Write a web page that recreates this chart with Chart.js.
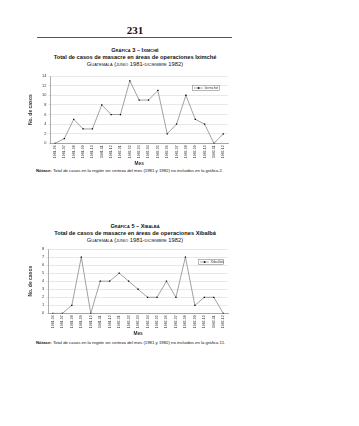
<!DOCTYPE html>
<html>
<head>
<meta charset="utf-8">
<script src="https://cdn.jsdelivr.net/npm/chart.js@4.4.1/dist/chart.umd.min.js"></script>
<style>
    body { margin: 0; background: #fff; font-family: "Liberation Sans", Arial, sans-serif; color: #111; }
    .page { position: relative; width: 359px; height: 426px; }
    .abs { position: absolute; white-space: nowrap; }
    .center { left: 35px; width: 200px; text-align: center; }
    .pagenum { top: 24px; font-family: "Liberation Serif", serif; font-size: 11px; font-weight: bold; }
    .rule { top: 37px; left: 37px; width: 195px; border-top: 0.8px solid #555; }
    .kicker { font-size: 5.6px; font-variant: small-caps; font-weight: bold; }
    .title { font-size: 5.7px; font-weight: bold; }
    .sub { font-size: 5.8px; font-variant: small-caps; }
    .note { font-size: 4.3px; left: 36px; }
    canvas { position: absolute; }
</style>
</head>
<body>
<div class="page">
    <div class="abs center pagenum">231</div>
    <div class="abs rule"></div>

    <div class="abs center kicker" style="top:46.5px">Gráfica 3 – Iximché</div>
    <div class="abs center title" style="top:54px">Total de casos de masacre en áreas de operaciones Iximché</div>
    <div class="abs center sub" style="top:60.5px">Guatemala (junio 1981-diciembre 1982)</div>
    <canvas id="chartIximche" style="left:20px; top:71px;" width="214" height="96"></canvas>
    <div class="abs note" style="top:167.5px"><b>Nótase:</b> Total de casos en la región sin certeza del mes (1981 y 1982) no incluidos en la gráfica 2.</div>

    <div class="abs center kicker" style="top:222.5px">Gráfica 5 – Xibalbá</div>
    <div class="abs center title" style="top:230px">Total de casos de masacre en áreas de operaciones Xibalbá</div>
    <div class="abs center sub" style="top:236.5px">Guatemala (junio 1981-diciembre 1982)</div>
    <canvas id="chartXibalba" style="left:20px; top:244px;" width="214" height="93"></canvas>
    <div class="abs note" style="top:340px"><b>Nótase:</b> Total de casos en la región sin certeza del mes (1981 y 1982) no incluidos en la gráfica 11.</div>
</div>

<script>
// Months shared by both charts
const months = ['1981-06', '1981-07', '1981-08', '1981-09', '1981-10', '1981-11', '1981-12',
    '1982-01', '1982-02', '1982-03', '1982-04', '1982-05', '1982-06', '1982-07', '1982-08',
    '1982-09', '1982-10', '1982-11', '1982-12'];

// Gráfica 3 - Iximché
const iximcheCases = [0, 1, 5, 3, 3, 8, 6, 6, 13, 9, 9, 11, 2, 4, 10, 5, 4, 0, 2];
const iximcheTicks = { max: 14, step: 2 };

// Gráfica 5 - Xibalbá
const xibalbaCases = [0, 0, 1, 7, 0, 4, 4, 5, 4, 3, 2, 2, 4, 2, 7, 1, 2, 2, 0];
const xibalbaTicks = { max: 8, step: 1 };

Chart.defaults.font.family = '"Liberation Sans", Arial, sans-serif';
Chart.defaults.color = '#333';
Chart.defaults.animation = false;

// Draws a boxed legend inside the plot area, like the original
const insideLegend = {
    id: 'insideLegend',
    afterDatasetsDraw(chart, args, opts) {
        const { ctx, chartArea } = chart;
        const ds = chart.data.datasets[0];
        const w = opts.width, h = opts.height;
        const x = chartArea.right - opts.right - w;
        const y = chartArea.top + opts.top;
        ctx.save();
        ctx.fillStyle = '#fff';
        ctx.fillRect(x, y, w, h);
        ctx.strokeStyle = '#888';
        ctx.lineWidth = 0.6;
        ctx.strokeRect(x + 0.5, y + 0.5, w, h);
        const my = y + h / 2 + 0.5;
        ctx.strokeStyle = ds.borderColor;
        ctx.lineWidth = 0.7;
        ctx.beginPath();
        ctx.moveTo(x + 2, my);
        ctx.lineTo(x + 11, my);
        ctx.stroke();
        ctx.fillStyle = '#000';
        ctx.fillRect(x + 5.8, my - 0.8, 1.6, 1.6);
        ctx.font = '4px "Liberation Sans", Arial, sans-serif';
        ctx.textBaseline = 'middle';
        ctx.fillStyle = '#444';
        ctx.fillText(ds.label, x + 12.5, my);
        ctx.restore();
    }
};

function makeLineChart(id, label, values, ticks, legendPos) {
    const ctx = document.getElementById(id);
    return new Chart(ctx, {
        type: 'line',
        data: {
            labels: months,
            datasets: [{
                label: label,
                data: values,
                borderColor: '#8a8a8a',
                borderWidth: 0.8,
                pointStyle: 'rect',
                pointRadius: 0.9,
                pointBackgroundColor: '#000',
                pointBorderColor: '#000',
                pointBorderWidth: 0,
                tension: 0
            }]
        },
        options: {
            responsive: false,
            layout: { padding: { top: 5, right: 6, left: 8, bottom: 0 } },
            plugins: {
                legend: { display: false },
                tooltip: { enabled: false },
                insideLegend: legendPos
            },
            scales: {
                x: {
                    offset: true,
                    grid: { display: false, drawTicks: false },
                    border: { color: '#777', width: 0.6 },
                    ticks: {
                        font: { size: 3.5 },
                        minRotation: 90,
                        maxRotation: 90,
                        autoSkip: false,
                        padding: 2
                    },
                    title: {
                        display: true,
                        text: 'Mes',
                        font: { size: 4.8, weight: 'bold' },
                        padding: { top: 1, bottom: 0 }
                    }
                },
                y: {
                    min: 0,
                    max: ticks.max,
                    grid: { color: '#d8d8d8', lineWidth: 0.6, drawTicks: true, tickLength: 2 },
                    border: { color: '#777', width: 0.6 },
                    ticks: {
                        stepSize: ticks.step,
                        autoSkip: false,
                        font: { size: 3.9 },
                        padding: 2
                    },
                    title: {
                        display: true,
                        text: 'No. de casos',
                        font: { size: 5, weight: 'bold' },
                        padding: { top: 0, bottom: 6 }
                    }
                }
            }
        },
        plugins: [insideLegend]
    });
}

makeLineChart('chartIximche', 'Iximché', iximcheCases, iximcheTicks,
    { right: 9, top: 9, width: 27, height: 5 });
makeLineChart('chartXibalba', 'Xibalbá', xibalbaCases, xibalbaTicks,
    { right: 5, top: 10, width: 25, height: 5 });
</script>
</body>
</html>
